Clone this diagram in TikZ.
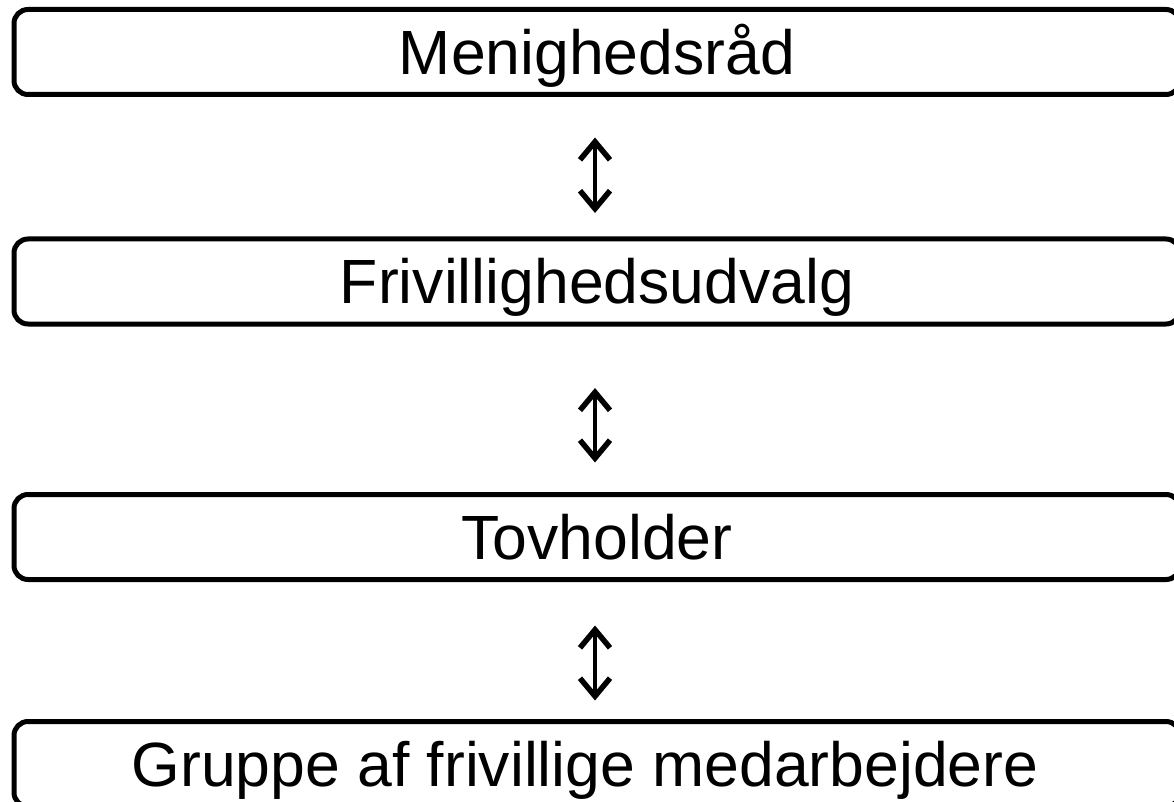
\documentclass[tikz,border=0pt]{standalone}
\usepackage{fontspec}
\setmainfont{Liberation Sans}
\usetikzlibrary{arrows.meta}
\tikzset{
  box/.style={draw=black, line width=5pt, rounded corners=14pt, outer sep=0pt,
    minimum width=1166pt, minimum height=85pt, inner sep=0pt,
    font=\fontsize{62.5}{75}\selectfont, text height=44.7pt, text depth=0pt},
  barb/.tip={Straight Barb[length=18pt,width=30pt,line width=5.5pt]},
  dbl/.style={line width=4pt, barb-barb}
}
\begin{document}
\begin{tikzpicture}[x=1pt,y=-1pt]
\useasboundingbox (0,0) rectangle (1174,802);
\clip (0,0) rectangle (1174,802);
\node[box] (b1) at (597,52) {Menighedsråd};
\node[box] (b2) at (597,281.5) {Frivillighedsudvalg};
\node[box] (b3) at (597,537) {Tovholder};
\node[box] (b4) at (597,764) {Gruppe af frivillige medarbejdere\hspace*{24pt}};
\draw[dbl, shorten <=43pt, shorten >=26pt] ([xshift=-2pt]b1.south) -- ([xshift=-2pt]b2.north);
\draw[dbl, shorten <=64pt, shorten >=32pt] ([xshift=-2pt]b2.south) -- ([xshift=-2pt]b3.north);
\draw[dbl, shorten <=46pt, shorten >=21pt] ([xshift=-2pt]b3.south) -- ([xshift=-2pt]b4.north);
\end{tikzpicture}
\end{document}
